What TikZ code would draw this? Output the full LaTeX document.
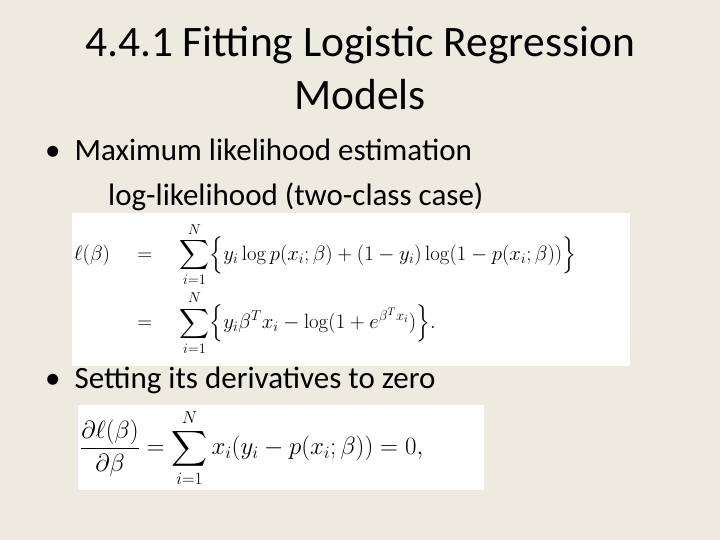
\documentclass[tikz,border=0pt]{standalone}
\usepackage{amsmath}
\usepackage[no-math]{fontspec}
\setmainfont{Carlito}
\definecolor{bg}{HTML}{EDEAE0}
\begin{document}
\begin{tikzpicture}[x=1pt,y=-1pt,
  txt/.style={anchor=west,inner sep=0pt,font=\fontsize{31}{34}\selectfont},
  box/.style={fill=white,draw=none}]
\fill[bg] (0,0) rectangle (720,540);
\useasboundingbox (0,0) rectangle (720,540);
\node[align=center,font=\fontsize{43.5}{53}\selectfont] (title) at (360,68) {4.4.1 Fitting Logistic Regression\\Models};
\node[txt] (b1) at (45,150) {\textbullet\hspace{0.45em}Maximum likelihood estimation};
\node[txt] (b1s) at (108,197) {log-likelihood (two-class case)};
\fill[box] (72,213) rectangle (630,366);
\node[anchor=west,inner sep=0pt,font=\fontsize{21.5}{25}\selectfont] (eq1) at (74,289) {$\begin{aligned}
\ell(\beta)\quad &=\quad \sum_{i=1}^{N}\Bigl\{y_i\log p(x_i;\beta)+(1-y_i)\log(1-p(x_i;\beta))\Bigr\}\\[0pt]
&=\quad \sum_{i=1}^{N}\Bigl\{y_i\beta^Tx_i-\log(1+e^{\beta^Tx_i})\Bigr\}.
\end{aligned}$};
\node[txt] (b2) at (45,380) {\textbullet\hspace{0.45em}Setting its derivatives to zero};
\fill[box] (78,405) rectangle (484,490);
\node[anchor=west,inner sep=0pt,font=\fontsize{26}{30}\selectfont] (eq2) at (80,448) {$\dfrac{\partial\ell(\beta)}{\partial\beta}=\displaystyle\sum_{i=1}^{N}x_i(y_i-p(x_i;\beta))=0,$};
\end{tikzpicture}
\end{document}
